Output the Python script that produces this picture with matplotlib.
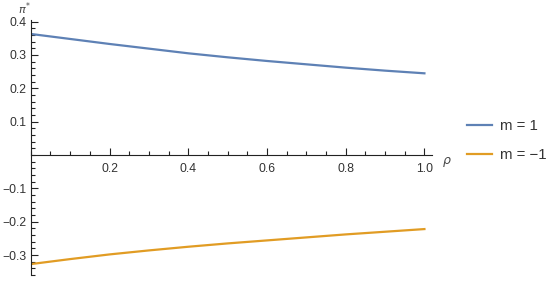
import matplotlib.pyplot as plt
from matplotlib.ticker import MultipleLocator, FixedLocator

plt.rcParams['font.family'] = ['Liberation Sans', 'DejaVu Sans']

rho = [0.0, 0.1, 0.2, 0.3, 0.4, 0.5, 0.6, 0.7, 0.8, 0.9, 1.0]
pi_m_pos = [0.363, 0.348, 0.333, 0.319, 0.305, 0.293, 0.282, 0.272, 0.262, 0.253, 0.245]
pi_m_neg = [-0.327, -0.312, -0.298, -0.286, -0.275, -0.265, -0.256, -0.247, -0.238, -0.230, -0.222]
labels = ['m = 1', 'm = \u22121']
colors = ['#5E81B5', '#E19C24']

fig = plt.figure(figsize=(5.5, 2.81), dpi=100)
ax = fig.add_axes([0.056, 0.021, 0.73, 0.908])

l1, = ax.plot(rho, pi_m_pos, color=colors[0], lw=1.6, label=labels[0])
l2, = ax.plot(rho, pi_m_neg, color=colors[1], lw=1.6, label=labels[1])

ax.set_xlim(0, 1.02)
ax.set_ylim(-0.36, 0.405)

ax.spines['left'].set_position(('data', 0))
ax.spines['bottom'].set_position(('data', 0))
ax.spines['top'].set_visible(False)
ax.spines['right'].set_visible(False)
for s in ('left', 'bottom'):
    ax.spines[s].set_linewidth(0.8)
    ax.spines[s].set_color('#222222')

ax.xaxis.set_major_locator(FixedLocator([0.2, 0.4, 0.6, 0.8, 1.0]))
ax.xaxis.set_minor_locator(MultipleLocator(0.05))
ax.yaxis.set_major_locator(FixedLocator([-0.3, -0.2, -0.1, 0.1, 0.2, 0.3, 0.4]))
ax.yaxis.set_minor_locator(MultipleLocator(0.02))
ax.set_xticklabels(['0.2', '0.4', '0.6', '0.8', '1.0'])
ax.set_yticklabels(['\u22120.3', '\u22120.2', '\u22120.1', '0.1', '0.2', '0.3', '0.4'])

ax.tick_params(which='both', direction='in', colors='#222222', labelcolor='#333333',
               labelsize=8.8, width=0.8)
ax.tick_params(which='major', length=5)
ax.tick_params(which='minor', length=2.8)
ax.tick_params(axis='x', pad=6)
ax.tick_params(axis='y', pad=3)

ax.text(1.045, 0.0, r'$\rho$', transform=ax.transData,
        fontsize=9, color='#444444', ha='left', va='top')
ax.text(0.0, 0.415, r'$\pi^{*}$', transform=ax.transData,
        fontsize=8, color='#444444', ha='right', va='bottom')

fig.legend(handles=[l1, l2], loc='center left', bbox_to_anchor=(0.825, 0.5),
           frameon=False, fontsize=10.8, handlelength=1.65, labelspacing=1.0,
           handletextpad=0.5, labelcolor='#333333')

fig.savefig('out.png', dpi=100)
